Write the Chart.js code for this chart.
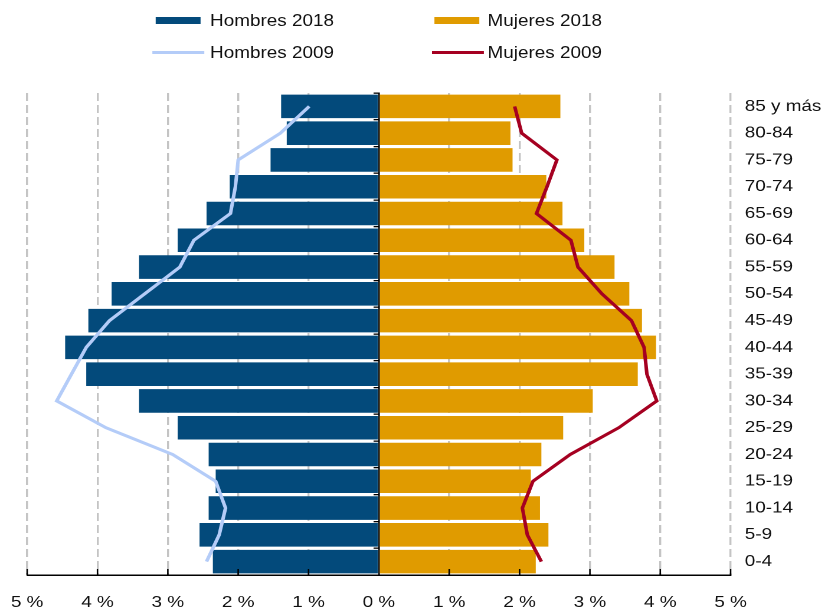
<!DOCTYPE html>
<html>
<head>
<meta charset="utf-8">
<script src="https://cdn.jsdelivr.net/npm/chart.js@4"></script>
<style>
  html, body { margin: 0; padding: 0; background: #fff; overflow: hidden; }
  /* the original is stretched sideways, so draw narrow and stretch */
  #wrap { position: absolute; left: 0; top: 0; width: 699px; height: 612px;
          transform: scaleX(1.1803); transform-origin: 0 0; }
  #graf { position: absolute; left: 0; top: 0; }
  .ley { position: absolute; font: 16px "Liberation Sans", Arial, sans-serif; color: #111; line-height: 18px; }
  .caja { position: absolute; }
</style>
</head>
<body>
<div id="wrap">
  <div class="caja" style="left:132px;top:17px;width:38px;height:7px;background:#034a7b"></div>
  <div class="ley" style="left:178px;top:12px">Hombres 2018</div>
  <div class="caja" style="left:368px;top:17px;width:38px;height:7px;background:#e09b00"></div>
  <div class="ley" style="left:413px;top:12px">Mujeres 2018</div>
  <div class="caja" style="left:129px;top:51px;width:44px;height:3px;background:#b4ccf8"></div>
  <div class="ley" style="left:178px;top:44px">Hombres 2009</div>
  <div class="caja" style="left:366px;top:51px;width:44px;height:3px;background:#a50021"></div>
  <div class="ley" style="left:413px;top:44px">Mujeres 2009</div>
  <canvas id="graf" width="699" height="612" style="width:699px;height:612px"></canvas>
</div>
<script>
const grupos = ['85 y más', '80-84', '75-79', '70-74', '65-69', '60-64', '55-59', '50-54', '45-49',
  '40-44', '35-39', '30-34', '25-29', '20-24', '15-19', '10-14', '5-9', '0-4'];

const hombres2018 = [1.39, 1.31, 1.54, 2.12, 2.45, 2.86, 3.41, 3.80, 4.13, 4.46, 4.16, 3.41, 2.86, 2.42, 2.32, 2.42, 2.55, 2.36];
const mujeres2018 = [2.58, 1.87, 1.90, 2.38, 2.61, 2.92, 3.35, 3.56, 3.74, 3.94, 3.68, 3.04, 2.62, 2.31, 2.16, 2.29, 2.41, 2.23];
const hombres2009 = [0.99, 1.40, 2.00, 2.04, 2.11, 2.63, 2.83, 3.33, 3.83, 4.16, 4.37, 4.58, 3.88, 2.93, 2.32, 2.18, 2.27, 2.45];
const mujeres2009 = [1.93, 2.03, 2.53, 2.39, 2.24, 2.73, 2.83, 3.17, 3.59, 3.77, 3.81, 3.95, 3.41, 2.72, 2.19, 2.04, 2.11, 2.31];

const ticksX = [-5, -4, -3, -2, -1, 0, 1, 2, 3, 4, 5];

// marcas pequeñas hacia dentro en el eje de abajo
const marcasDentro = {
  id: 'marcasDentro',
  afterDatasetsDraw(chart) {
    const ctx = chart.ctx;
    const x = chart.scales.x;
    const abajo = chart.chartArea.bottom;
    ctx.save();
    ctx.strokeStyle = '#000';
    ctx.lineWidth = 1.3;
    ticksX.forEach(v => {
      if (v === 0) return;
      const px = x.getPixelForValue(v);
      ctx.beginPath();
      ctx.moveTo(px, abajo);
      ctx.lineTo(px, abajo - 6);
      ctx.stroke();
    });
    ctx.restore();
  }
};

new Chart(document.getElementById('graf'), {
  type: 'bar',
  data: {
    labels: grupos,
    datasets: [
      {
        type: 'line',
        label: 'Hombres 2009',
        indexAxis: 'y',
        data: hombres2009.map(v => -v),
        borderColor: '#b4ccf8',
        borderWidth: 3,
        pointRadius: 0,
        tension: 0,
        fill: false,
        order: 1
      },
      {
        type: 'line',
        label: 'Mujeres 2009',
        indexAxis: 'y',
        data: mujeres2009,
        borderColor: '#a50021',
        borderWidth: 3,
        pointRadius: 0,
        tension: 0,
        fill: false,
        order: 1
      },
      {
        label: 'Hombres 2018',
        data: hombres2018.map(v => -v),
        backgroundColor: '#034a7b',
        barPercentage: 0.88,
        categoryPercentage: 1,
        order: 2
      },
      {
        label: 'Mujeres 2018',
        data: mujeres2018,
        backgroundColor: '#e09b00',
        barPercentage: 0.88,
        categoryPercentage: 1,
        order: 2
      }
    ]
  },
  options: {
    indexAxis: 'y',
    responsive: false,
    devicePixelRatio: 2,
    animation: false,
    layout: {
      autoPadding: false,
      padding: { top: 93, left: 23, right: 0, bottom: 0 }
    },
    scales: {
      x: {
        min: -5,
        max: 5,
        afterBuildTicks: s => { s.ticks = ticksX.map(v => ({ value: v })); },
        afterFit: s => { s.height = 37; s.paddingLeft = 0; s.paddingRight = 0; },
        grid: {
          color: c => (c.tick && c.tick.value === 0) ? 'rgba(0,0,0,0)' : '#c4c4c4',
          lineWidth: 1.7,
          drawTicks: false
        },
        border: { color: '#000', width: 1.5, dash: [8, 4] },
        ticks: {
          padding: 18,
          color: '#111',
          font: { family: '"Liberation Sans", Arial, sans-serif', size: 16 },
          callback: v => Math.abs(v) + ' %'
        }
      },
      y: {
        type: 'category',
        position: { x: 0 },
        stacked: true,
        offset: true,
        z: 1,
        grid: {
          drawOnChartArea: false,
          drawTicks: true,
          tickLength: 4,
          color: '#000',
          lineWidth: 1.3
        },
        border: { color: '#000', width: 1.3 },
        ticks: { display: false }
      },
      y2: {
        type: 'category',
        position: 'right',
        offset: true,
        grid: { display: false, drawTicks: false },
        border: { display: false },
        afterFit: s => { s.width = 80; s.paddingTop = 0; s.paddingBottom = 0; },
        ticks: {
          padding: 12,
          color: '#111',
          font: { family: '"Liberation Sans", Arial, sans-serif', size: 16 }
        }
      }
    },
    plugins: {
      legend: { display: false },
      tooltip: { enabled: false }
    }
  },
  plugins: [marcasDentro]
});
</script>
</body>
</html>
